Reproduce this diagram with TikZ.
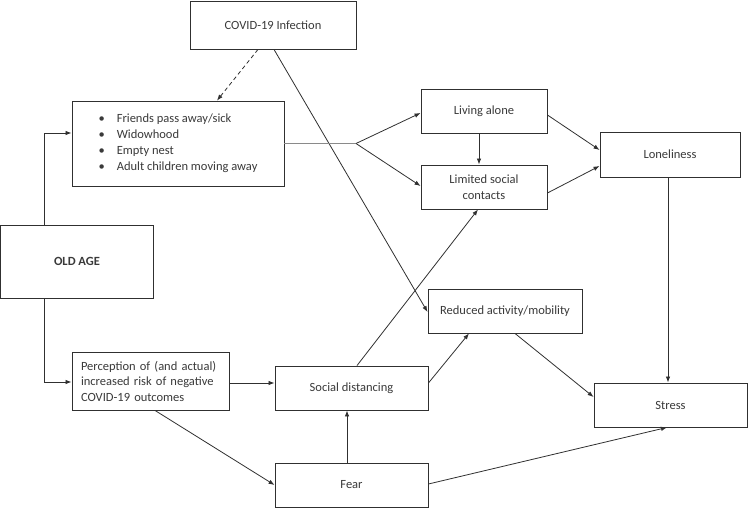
\documentclass[tikz,border=0pt]{standalone}
\usepackage{fontspec}
\setmainfont{Carlito}
\usetikzlibrary{arrows.meta}
\definecolor{txt}{HTML}{3A3A3A}
\definecolor{ln}{HTML}{303030}
\definecolor{lgray}{HTML}{8A8A8A}
\begin{document}
\begin{tikzpicture}[x=1pt,y=-1pt,
  box/.style={draw=ln, line width=0.9pt, fill=white, text=txt, inner sep=0pt,
    font=\fontsize{12.5}{16}\selectfont, align=center},
  conn/.style={draw=ln, line width=0.8pt},
  arr/.style={conn, -{Latex[length=6pt,width=4.5pt]}},
]
\useasboundingbox (0,0) rectangle (748,508);

\node[box, minimum width=166pt, minimum height=48pt] (covid) at (273,25) {COVID-19 Infection};
\node[box, minimum width=212pt, minimum height=85pt] (bullets) at (178,143.5)
  {\begin{tabular}{@{}l@{\hspace{12pt}}l@{}}
   \textbullet & Friends pass away/sick\\
   \textbullet & Widowhood\\
   \textbullet & Empty nest\\
   \textbullet & Adult children moving away
   \end{tabular}};
\node[box, minimum width=126pt, minimum height=44pt] (living) at (484,111) {Living alone};
\node[box, minimum width=126pt, minimum height=44pt] (limited) at (484,187) {Limited social\\contacts};
\node[box, minimum width=140pt, minimum height=45pt] (lonely) at (670,154.5) {Loneliness};
\node[box, minimum width=153pt, minimum height=73pt, font=\fontsize{12.5}{16}\selectfont\bfseries] (oldage) at (77,261.5) {OLD AGE};
\node[box, minimum width=154pt, minimum height=44pt] (reduced) at (505,311) {Reduced activity/mobility};
\node[box, minimum width=157pt, minimum height=58pt, text width=139pt, align=left, font=\fontsize{12.5}{15.5}\selectfont] (percep) at (150.5,381)
  {Perception of (and actual)\\increased risk of negative\\COVID-19 outcomes};
\node[box, minimum width=153pt, minimum height=44pt] (social) at (351.5,388) {Social distancing};
\node[box, minimum width=153pt, minimum height=44pt] (stress) at (670.5,405) {Stress};
\node[box, minimum width=153pt, minimum height=44pt] (fear) at (351.5,485) {Fear};

\coordinate (fork) at (356,143.5);

% COVID
\draw[arr, dashed, dash pattern=on 4pt off 3pt] ([xshift=-15pt]covid.south) -- ([xshift=39pt]bullets.north);
\draw[arr] ([xshift=1pt]covid.south) -- ([yshift=-1pt]reduced.west);

% Old age
\draw[arr] ([xshift=-33pt]oldage.north) |- ([yshift=10.5pt]bullets.west);
\draw[arr] ([xshift=-33pt]oldage.south) |- ([yshift=-1pt]percep.west);

% fork
\draw[draw=lgray, line width=0.8pt] (bullets.east) -- (fork);
\draw[arr] (fork) -- ([yshift=-2pt]living.west);
\draw[arr] (fork) -- ([yshift=1pt]limited.west);

% right cluster
\draw[arr] ([xshift=-5pt]living.south) -- ([xshift=-5pt]limited.north);
\draw[arr] ([yshift=-4pt]living.east) -- ([yshift=4.5pt]lonely.west);
\draw[arr] ([yshift=-6pt]limited.east) -- ([yshift=-11.5pt]lonely.west);
\draw[arr] ([xshift=-2pt]lonely.south) -- ([xshift=-2pt]lonely.south |- stress.north);

% lower
\draw[arr] ([yshift=-2pt]percep.east) -- ([yshift=-2pt]percep.east -| social.west);
\draw[arr] ([xshift=4.5pt]percep.south) -- (fear.west);
\draw[arr] ([xshift=-4.5pt]fear.north) -- ([xshift=-4.5pt]social.south);
\draw[arr] ([yshift=1pt]fear.east) -- ([xshift=-3.5pt]stress.south);
\draw[arr] ([xshift=5.5pt]social.north) -- ([xshift=-6pt]limited.south);
\draw[arr] ([yshift=5pt]social.east) -- ([xshift=-36pt]reduced.south);
\draw[arr] ([xshift=10pt]reduced.south) -- ([yshift=8pt]stress.west);
\end{tikzpicture}
\end{document}
